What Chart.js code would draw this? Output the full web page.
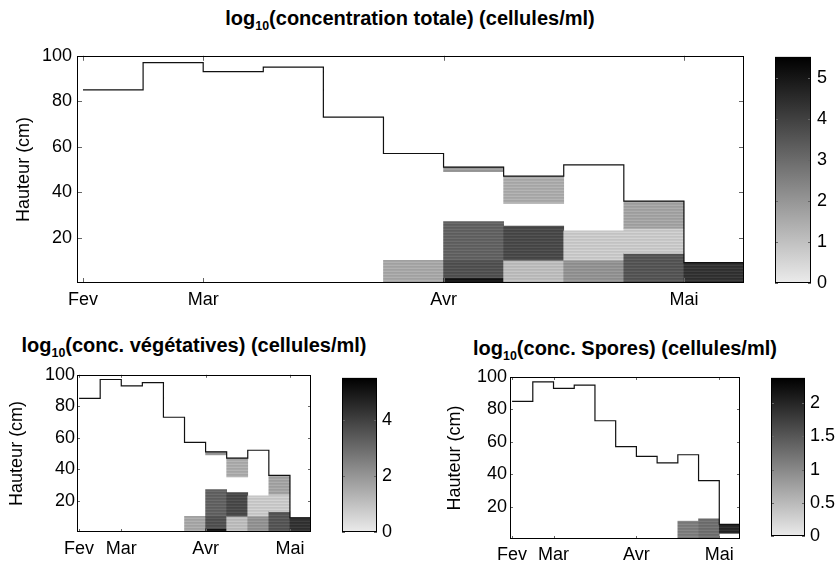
<!DOCTYPE html>
<html lang="fr">
<head>
  <meta charset="UTF-8">
  <title>log10 concentrations - Hauteur</title>
  <script src="https://cdn.jsdelivr.net/npm/chart.js@4"></script>
  <style>
    html, body { margin: 0; padding: 0; background: #fff; }
    body { width: 837px; height: 565px; position: relative; overflow: hidden; font-family: "Liberation Sans", Arial, Helvetica, sans-serif; }
    canvas { position: absolute; }
    .title { position: absolute; font-weight: bold; font-size: 20px; line-height: 1; text-align: center; white-space: nowrap; color: #000; }
    .title .sub { font-size: 0.62em; position: relative; top: 0.42em; }
  </style>
</head>
<body>
  <div class="title" style="left:110px; width:600px; top:8px;">log<span class="sub">10</span>(concentration totale) (cellules/ml)</div>
  <div class="title" style="left:-6px; width:400px; top:335px;">log<span class="sub">10</span>(conc. végétatives) (cellules/ml)</div>
  <div class="title" style="left:425px; width:400px; top:338px;">log<span class="sub">10</span>(conc. Spores) (cellules/ml)</div>

  <canvas id="cTot" width="760" height="280" style="left:0; top:40px;"></canvas>
  <canvas id="cbTot" width="67" height="260" style="left:770px; top:40px;"></canvas>
  <canvas id="cVeg" width="325" height="203" style="left:0; top:362px;"></canvas>
  <canvas id="cbVeg" width="70" height="190" style="left:335px; top:362px;"></canvas>
  <canvas id="cSpo" width="325" height="203" style="left:430px; top:362px;"></canvas>
  <canvas id="cbSpo" width="72" height="190" style="left:765px; top:362px;"></canvas>

  <script>
    // axes
    const monthLabels = ['Fev', 'Mar', 'Avr', 'Mai'];
    const monthIndex = [0, 2, 6, 10];
    const heightTicks = [20, 40, 60, 80, 100];

    // hauteur d'eau a chaque prelevement (cm)
    const heights = [85, 97, 93, 95, 73, 57, 51, 47, 52, 36, 9];

    // concentration totale : prelevement, bas, haut, log10
    const totIdx  = [5, 6, 6, 6, 6, 6, 7, 7, 7, 8, 8, 9, 9, 9, 10];
    const totLow  = [0, 0, 0.7, 2.2, 10, 49, 0, 10, 35, 0, 10, 0, 13, 24, 0];
    const totHigh = [10, 0.7, 2.2, 10, 27, 51, 10, 25, 47, 10, 23, 13, 24, 36, 9];
    const totLog  = [1.6, 3.6, 5.1, 3.6, 3.2, 1.9, 1.1, 3.8, 1.5, 2.1, 0.8, 3.5, 0.8, 1.7, 4.3];

    // formes vegetatives
    const vegIdx  = [5, 6, 6, 6, 6, 6, 7, 7, 7, 8, 8, 9, 9, 9, 10];
    const vegLow  = [0, 0, 0.7, 2.2, 10, 49, 0, 10, 35, 0, 10, 0, 13, 24, 0];
    const vegHigh = [10, 0.7, 2.2, 10, 27, 51, 10, 25, 47, 10, 23, 13, 24, 36, 9];
    const vegLog  = [1.6, 3.6, 5.1, 3.6, 3.2, 1.9, 1.1, 3.8, 1.5, 2.1, 0.8, 3.5, 0.8, 1.7, 4.3];

    // spores
    const spoIdx  = [8, 9, 10];
    const spoLow  = [0, 0, 3.5];
    const spoHigh = [11, 12.5, 8.5];
    const spoLog  = [1.1, 1.25, 1.95];

    // echelles de couleur
    const totMax = 5.53, vegMax = 5.53, spoMax = 2.38;
    const totBarTicks = [0, 1, 2, 3, 4, 5];
    const vegBarTicks = [0, 2, 4];
    const spoBarTicks = [0, 0.5, 1, 1.5, 2];

    Chart.defaults.font.family = '"Liberation Sans", Arial, Helvetica, sans-serif';
    Chart.defaults.color = '#000';

    function grayFor(v, max) {
      return Math.round(235 * (1 - Math.min(v, max) / max));
    }

    // rayures horizontales comme l'image matlab
    function stripes(g) {
      const c = document.createElement('canvas');
      c.width = 4; c.height = 3;
      const x = c.getContext('2d');
      [10, -7, -2].forEach((d, r) => {
        const k = Math.max(0, Math.min(255, g + d));
        x.fillStyle = `rgb(${k},${k},${k})`;
        x.fillRect(0, r, 4, 1);
      });
      return x.createPattern(c, 'repeat');
    }

    // cadre + graduations vers l'interieur
    const frame = {
      id: 'frame',
      afterDatasetsDraw(chart, args, opts) {
        const { ctx, chartArea: a } = chart;
        const len = opts.len || 4;
        ctx.save();
        ctx.strokeStyle = '#666';
        ctx.lineWidth = 1;
        ctx.beginPath();
        if (opts.xTicks) {
          chart.scales.x.ticks.forEach(t => {
            const px = Math.round(chart.scales.x.getPixelForValue(t.value)) + 0.5;
            ctx.moveTo(px, a.bottom); ctx.lineTo(px, a.bottom - len);
            ctx.moveTo(px, a.top); ctx.lineTo(px, a.top + len);
          });
        }
        chart.scales.y.ticks.forEach(t => {
          const py = Math.round(chart.scales.y.getPixelForValue(t.value)) + 0.5;
          ctx.moveTo(a.left, py); ctx.lineTo(a.left + len, py);
          ctx.moveTo(a.right, py); ctx.lineTo(a.right - len, py);
        });
        ctx.stroke();
        ctx.strokeStyle = '#000';
        ctx.strokeRect(Math.round(a.left) + 0.5, Math.round(a.top) + 0.5,
          Math.round(a.right - a.left) - 1, Math.round(a.bottom - a.top) - 1);
        ctx.restore();
      }
    };

    function heightChart(id, idx, low, high, vals, max, L) {
      const steps = heights.map((h, i) => ({ x: i, y: h }));
      steps.push({ x: heights.length, y: heights[heights.length - 1] });
      return new Chart(document.getElementById(id), {
        type: 'bar',
        data: {
          datasets: [
            {
              type: 'line', data: steps, stepped: true,
              borderColor: '#111', borderWidth: 1.2, pointRadius: 0, fill: false, order: 1
            },
            {
              type: 'bar',
              data: idx.map((k, i) => ({ x: k + 0.5, y: [low[i], high[i]] })),
              backgroundColor: vals.map(v => stripes(grayFor(v, max))),
              borderWidth: 0, barPercentage: 1, categoryPercentage: 1, grouped: false, order: 2
            }
          ]
        },
        options: {
          responsive: false,
          animation: false,
          layout: { padding: L.pad },
          plugins: { legend: { display: false }, tooltip: { enabled: false }, frame: { len: L.len, xTicks: true } },
          scales: {
            x: {
              type: 'linear', min: -0.1, max: 11, offset: false,
              grid: { display: false, drawTicks: false }, border: { display: false },
              afterBuildTicks: s => { s.ticks = monthIndex.map(v => ({ value: v })); },
              afterFit: s => { s.height = L.xh; },
              ticks: {
                padding: L.xpad, maxRotation: 0, autoSkip: false, font: { size: L.fs },
                callback: v => monthLabels[monthIndex.indexOf(v)] ?? ''
              }
            },
            y: {
              min: 0, max: 100,
              grid: { display: false, drawTicks: false }, border: { display: false },
              afterBuildTicks: s => { s.ticks = heightTicks.map(v => ({ value: v })); },
              afterFit: s => { s.width = L.yw; },
              ticks: { padding: L.ypad, font: { size: L.fs } },
              title: { display: true, text: 'Hauteur (cm)', font: { size: 18 }, padding: { top: L.tpad, bottom: 0 } }
            }
          }
        },
        plugins: [frame]
      });
    }

    function colorbar(id, max, ticks, L) {
      return new Chart(document.getElementById(id), {
        type: 'bar',
        data: {
          labels: [''],
          datasets: [{
            data: [[0, max]],
            backgroundColor: ctx => {
              const a = ctx.chart.chartArea;
              if (!a) return '#888';
              const g = ctx.chart.ctx.createLinearGradient(0, a.bottom, 0, a.top);
              g.addColorStop(0, 'rgb(235,235,235)');
              g.addColorStop(1, 'rgb(0,0,0)');
              return g;
            },
            borderWidth: 0, barPercentage: 1, categoryPercentage: 1
          }]
        },
        options: {
          responsive: false,
          animation: false,
          layout: { padding: L.pad },
          plugins: { legend: { display: false }, tooltip: { enabled: false }, frame: { len: 3, xTicks: false } },
          scales: {
            x: { display: false },
            y: {
              position: 'right', min: 0, max: max,
              grid: { display: false, drawTicks: false }, border: { display: false },
              afterBuildTicks: s => { s.ticks = ticks.map(v => ({ value: v })); },
              afterFit: s => { s.width = L.yw; },
              ticks: { padding: L.ypad, font: { size: L.fs }, callback: v => String(v) }
            }
          }
        },
        plugins: [frame]
      });
    }

    heightChart('cTot', totIdx, totLow, totHigh, totLog, totMax,
      { pad: { left: 0, top: 8, right: 16, bottom: 0 }, yw: 77, xh: 37, fs: 18, ypad: 5, xpad: 6, tpad: 13.7, len: 5 });
    colorbar('cbTot', totMax, totBarTicks,
      { pad: { left: 5, top: 8, right: 0, bottom: 17 }, yw: 26, fs: 18, ypad: 6 });

    heightChart('cVeg', vegIdx, vegLow, vegHigh, vegLog, vegMax,
      { pad: { left: 0, top: 12, right: 14, bottom: 0 }, yw: 77, xh: 33, fs: 18, ypad: 2, xpad: 6, tpad: 6.7, len: 3 });
    colorbar('cbVeg', vegMax, vegBarTicks,
      { pad: { left: 7, top: 12, right: 0, bottom: 20 }, yw: 28, fs: 18, ypad: 5 });

    heightChart('cSpo', spoIdx, spoLow, spoHigh, spoLog, spoMax,
      { pad: { left: 0, top: 15, right: 15, bottom: 0 }, yw: 80, xh: 26, fs: 18, ypad: 3, xpad: 5, tpad: 14.7, len: 3 });
    colorbar('cbSpo', spoMax, spoBarTicks,
      { pad: { left: 6, top: 15, right: 0, bottom: 13 }, yw: 32, fs: 18, ypad: 5 });
  </script>
</body>
</html>
